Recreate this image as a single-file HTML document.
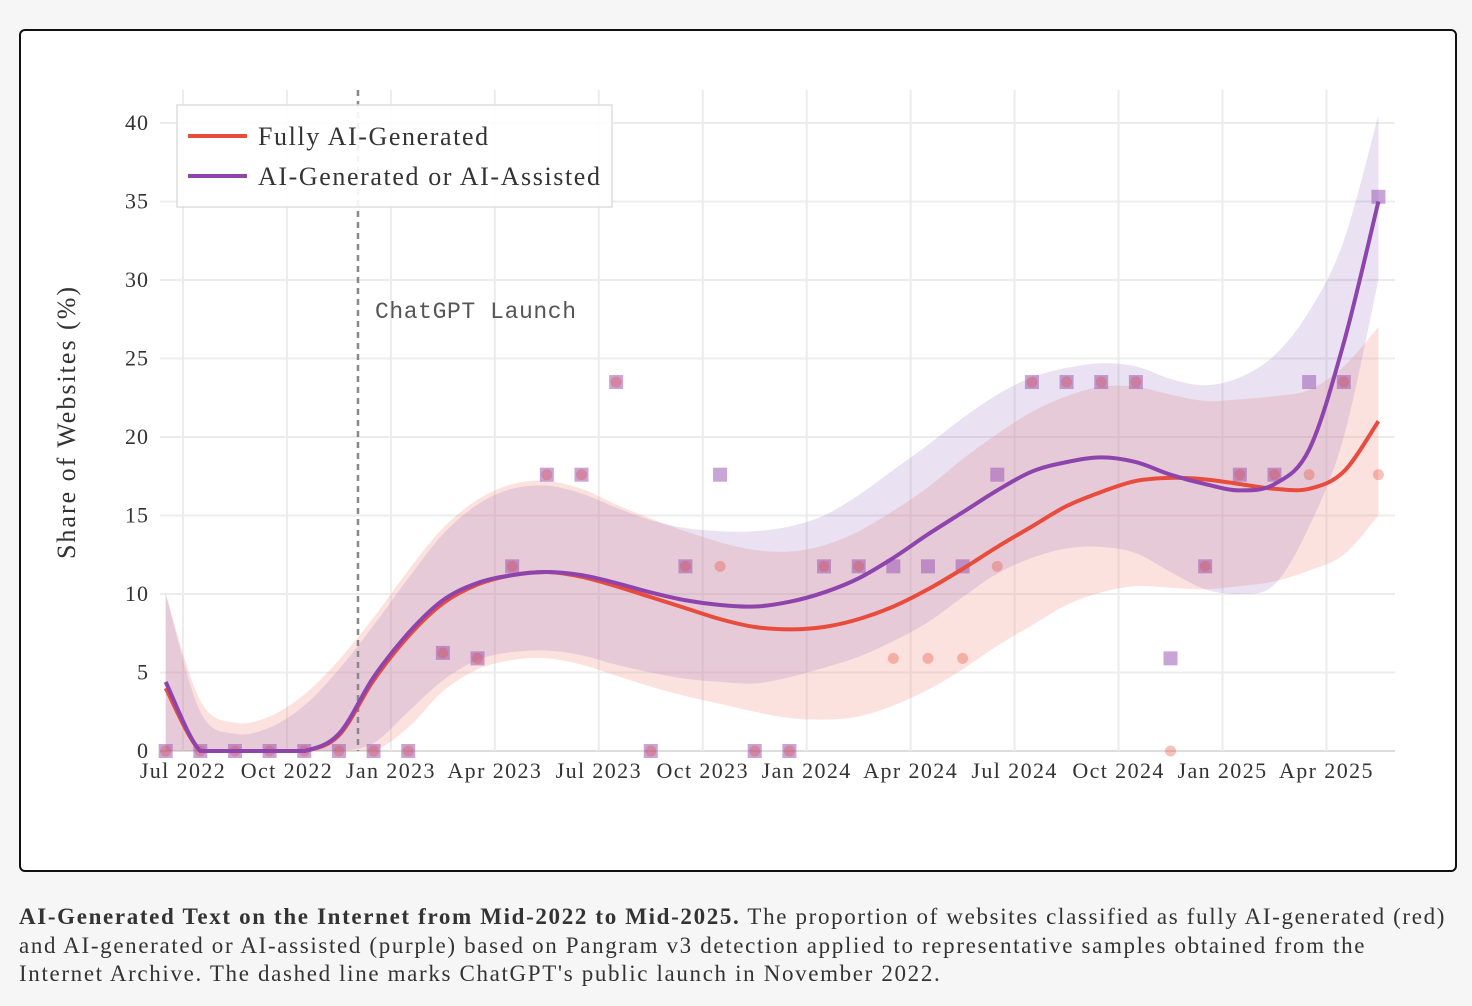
<!DOCTYPE html>
<html><head><meta charset="utf-8">
<style>
body{margin:0;width:1472px;height:1006px;background:#f6f6f6;font-family:"Liberation Serif",serif;overflow:hidden}
#frame{position:absolute;left:19px;top:29px;width:1434px;height:839px;border:2px solid #111;border-radius:6px;background:#fff}
#cap{position:absolute;left:19px;top:903px;width:1460px;font-size:23px;letter-spacing:1.65px;line-height:28.5px;color:#333;white-space:nowrap}
</style></head><body>
<div id="frame"></div>
<svg id="chart" width="1472" height="1006" style="position:absolute;left:0;top:0"></svg>
<div id="cap"><b>AI-Generated Text on the Internet from Mid-2022 to Mid-2025.</b> The proportion of websites classified as fully AI-generated (red)<br>and AI-generated or AI-assisted (purple) based on Pangram v3 detection applied to representative samples obtained from the<br>Internet Archive. The dashed line marks ChatGPT's public launch in November 2022.</div>
<script>
const xTicks=["Jul 2022","Oct 2022","Jan 2023","Apr 2023","Jul 2023","Oct 2023","Jan 2024","Apr 2024","Jul 2024","Oct 2024","Jan 2025","Apr 2025"];
const yTicks=[0,5,10,15,20,25,30,35,40];
const redPts=[0,0,0,0,0,0,0,0,6.25,5.9,11.76,17.6,17.6,23.5,0,11.76,11.76,0,0,11.76,11.76,5.9,5.9,5.9,11.76,23.5,23.5,23.5,23.5,0,11.76,17.6,17.6,17.6,23.5,17.6];
const purplePts=[0,0,0,0,0,0,0,0,6.25,5.9,11.76,17.6,17.6,23.5,0,11.76,17.6,0,0,11.76,11.76,11.76,11.76,11.76,17.6,23.5,23.5,23.5,23.5,5.9,11.76,17.6,17.6,23.5,23.5,35.3];
const redLine=[4,0,0,0,0,1.0,4.5,7.3,9.4,10.6,11.2,11.4,11.1,10.5,9.8,9.1,8.4,7.9,7.75,7.9,8.4,9.2,10.3,11.6,13.0,14.3,15.6,16.5,17.2,17.4,17.3,17.0,16.7,16.7,17.8,21];
const purpleLine=[4.4,0,0,0,0,1.1,4.7,7.5,9.6,10.7,11.2,11.4,11.2,10.7,10.1,9.6,9.3,9.2,9.5,10.1,11.0,12.3,13.8,15.2,16.6,17.8,18.4,18.7,18.4,17.6,17.0,16.6,17.0,19.2,26,35];
const redUpper=[10,3.2,1.8,2.2,3.6,5.8,8.5,11.5,14.2,16,17,17.2,16.7,15.7,14.8,14.0,13.3,12.8,12.7,13.1,14.0,15.3,16.8,18.6,20.2,21.6,22.6,23.2,23.2,22.7,22.3,22.4,22.6,23,24.5,27];
const redLower=[0,0,0,0,0,0,0,1.5,3.8,5.2,5.8,5.9,5.5,4.8,4.1,3.5,3.0,2.5,2.1,2.0,2.2,2.9,3.9,5.2,6.7,8.0,9.3,10.1,10.5,10.4,10.3,10.5,10.8,11.5,12.5,15];
const purpleUpper=[10,2.5,1.1,1.5,2.9,5.2,8,11,13.8,15.7,16.7,16.9,16.4,15.5,14.7,14.2,14.0,14.0,14.3,15.0,16.3,17.9,19.5,21.2,22.7,23.8,24.4,24.7,24.5,23.7,23.3,23.8,25.2,28,32.5,40.5];
const purpleLower=[0,0,0,0,0,0,0.5,2.5,4.5,5.8,6.3,6.4,6.1,5.5,5.0,4.6,4.4,4.3,4.7,5.3,6.0,7.0,8.2,9.8,11.3,12.3,12.9,13.0,12.6,11.4,10.3,10.0,10.6,14.3,20,30];
const launchMonth=5.05;

const NS="http://www.w3.org/2000/svg";
const svg=document.getElementById('chart');
const X=m=>183+m*34.65;
const XI=i=>X(i-0.5);
const Y=v=>751-v*15.7;
function el(t,a,p){const e=document.createElementNS(NS,t);for(const k in a)e.setAttribute(k,a[k]);(p||svg).appendChild(e);return e;}
function pts(arr){return arr.map((v,i)=>[XI(i),Y(Math.max(0,v))]);}
function smooth(p){let d="M"+p[0][0]+","+p[0][1];for(let i=0;i<p.length-1;i++){const p0=p[Math.max(0,i-1)],p1=p[i],p2=p[i+1],p3=p[Math.min(p.length-1,i+2)];
const c1=[p1[0]+(p2[0]-p0[0])/6,Math.min(751,p1[1]+(p2[1]-p0[1])/6)],c2=[p2[0]-(p3[0]-p1[0])/6,Math.min(751,p2[1]-(p3[1]-p1[1])/6)];
d+=" C"+c1[0]+","+c1[1]+" "+c2[0]+","+c2[1]+" "+p2[0]+","+p2[1];}return d;}
function band(up,lo){const u=pts(up),l=pts(lo).reverse();let d=smooth(u);d+=" L"+l[0][0]+","+l[0][1]+smooth(l).replace(/^M[^C]*/," ");return d+"Z";}
yTicks.forEach(v=>{const g=el('line',{x1:160,x2:1395,y1:Y(v),y2:Y(v),stroke:v===0?'#ddd':'#ececec','stroke-width':2});

const t=el('text',{x:149,y:Y(v)+7,'text-anchor':'end','font-size':22,'letter-spacing':1,fill:'#333'});t.textContent=v;
});
xTicks.forEach((s,i)=>{const g=el('line',{x1:X(i*3),x2:X(i*3),y1:90,y2:751,stroke:'#ececec','stroke-width':2});

const t=el('text',{x:X(i*3),y:778,'text-anchor':'middle','font-size':22,'letter-spacing':1.4,fill:'#333'});t.textContent=s;
});
const yt=el('text',{x:0,y:0,transform:'translate(75,422) rotate(-90)','text-anchor':'middle','font-size':26,'letter-spacing':2,fill:'#333'});yt.textContent='Share of Websites (%)';

const b1=el('path',{d:band(redUpper,redLower),fill:'rgba(245,140,125,0.25)'});

const b2=el('path',{d:band(purpleUpper,purpleLower),fill:'rgba(150,110,190,0.2)'});

const ll=el('line',{x1:X(launchMonth),x2:X(launchMonth),y1:90,y2:751,stroke:'#888','stroke-width':2.5,'stroke-dasharray':'6,5'});

const lt=el('text',{x:X(launchMonth)+17,y:318,'font-family':'Liberation Mono, monospace','font-size':23,'letter-spacing':0.6,fill:'#555'});lt.textContent='ChatGPT Launch';

purplePts.forEach((v,i)=>{const r=el('rect',{x:XI(i)-7,y:Y(v)-7,width:14,height:14,fill:'rgba(155,89,182,0.55)'});
});
redPts.forEach((v,i)=>{const c=el('circle',{cx:XI(i),cy:Y(v),r:5.5,fill:'rgba(231,76,60,0.35)'});
});
const l1=el('path',{d:smooth(pts(redLine)),fill:'none',stroke:'#e74c3c','stroke-width':4});

const l2=el('path',{d:smooth(pts(purpleLine)),fill:'none',stroke:'#8e44ad','stroke-width':4});

const lg=el('g',{});
el('rect',{x:177,y:105,width:435,height:102,fill:'rgba(255,255,255,0.9)',stroke:'#ddd','stroke-width':1.5},lg);
el('line',{x1:188,x2:247,y1:136,y2:136,stroke:'#e74c3c','stroke-width':4},lg);
el('line',{x1:188,x2:247,y1:176,y2:176,stroke:'#8e44ad','stroke-width':4},lg);
const e1=el('text',{x:258,y:145,'font-size':26,'letter-spacing':1.6,fill:'#333'},lg);e1.textContent='Fully AI-Generated';

const e2=el('text',{x:258,y:185,'font-size':26,'letter-spacing':1.6,fill:'#333'},lg);e2.textContent='AI-Generated or AI-Assisted';

</script>
</body></html>
